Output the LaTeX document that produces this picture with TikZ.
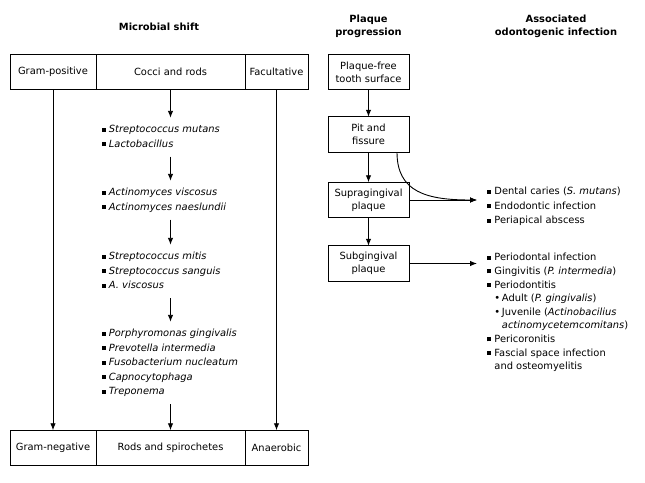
\documentclass[tikz,border=0pt]{standalone}
\usepackage{fontspec}
\setmainfont{DejaVu Sans}
\usetikzlibrary{arrows.meta,positioning}

\newcommand{\sqb}{\strut\makebox[7pt][l]{\rule[1.2pt]{4pt}{4pt}}}
\newcommand{\rdb}{\makebox[7.5pt][l]{\textbullet}}

\begin{document}
\begin{tikzpicture}[x=1pt,y=-1pt,line width=0.9pt,>={Latex[length=7pt,width=5.5pt]},
    font=\fontsize{9.9}{14.5}\selectfont,
    box/.style={draw,minimum height=35.5pt,inner sep=0pt,outer sep=0pt,align=center,
                font=\fontsize{9.9}{13}\selectfont},
    head/.style={align=center,font=\fontsize{9.9}{13}\selectfont\bfseries},
    list/.style={align=left,inner xsep=0pt,inner ysep=4.5pt,anchor=north west},
    rlist/.style={list,font=\fontsize{9.9}{13.6}\selectfont},
    node distance=27pt]
    \useasboundingbox (0,0) rectangle (645,482);

    % headings
    \node[head] (hshift)  at (159,27)    {Microbial shift};
    \node[head] (hplaque) at (368.5,26.5) {Plaque\\progression};
    \node[head] (hinfect) at (556,26.5)  {Associated\\odontogenic infection};

    % microbial shift
    \node[box,minimum width=86pt]                       (gpos)  at (53,72) {Gram-positive};
    \node[box,minimum width=149pt,right=0pt of gpos]    (cocci)            {Cocci and rods};
    \node[box,minimum width=63pt,right=0pt of cocci]    (facul)            {Facultative};
    \node[box,minimum width=86pt]                       (gneg)  at (53,448) {Gram-negative};
    \node[box,minimum width=149pt,right=0pt of gneg]    (rods)             {Rods and spirochetes};
    \node[box,minimum width=63pt,right=0pt of rods]     (anaer)            {Anaerobic};

    \node[list] (l1) at (101.5,117.8) {\sqb\textit{Streptococcus mutans}\\
                                       \sqb\textit{Lactobacillus}};
    \node[list] (l2) at (101.5,180.8) {\sqb\textit{Actinomyces viscosus}\\
                                       \sqb\textit{Actinomyces naeslundii}};
    \node[list] (l3) at (101.5,244.8) {\sqb\textit{Streptococcus mitis}\\
                                       \sqb\textit{Streptococcus sanguis}\\
                                       \sqb\textit{A. viscosus}};
    \node[list] (l4) at (101.5,321.8) {\sqb\textit{Porphyromonas gingivalis}\\
                                       \sqb\textit{Prevotella intermedia}\\
                                       \sqb\textit{Fusobacterium nucleatum}\\
                                       \sqb\textit{Capnocytophaga}\\
                                       \sqb\textit{Treponema}};

    \draw[->] (gpos) -- (gneg);
    \draw[->] (facul) -- (anaer);
    \draw[->] (cocci) -- (l1.north -| cocci);
    \draw[->] (l1.south -| cocci) -- (l2.north -| cocci);
    \draw[->] (l2.south -| cocci) -- (l3.north -| cocci);
    \draw[->] (l3.south -| cocci) -- (l4.north -| cocci);
    \draw[->] (l4.south -| cocci) -- (rods);

    % plaque progression
    \node[box,minimum width=81pt]                   (pfree) at (368.5,72) {Plaque-free\\tooth surface};
    \node[box,minimum width=81pt,below=27pt of pfree] (pit)   {Pit and\\fissure};
    \node[box,minimum width=81pt,below=30pt of pit]   (supra) {Supragingival\\plaque};
    \node[box,minimum width=81pt,below=28pt of supra] (subg)  {Subgingival\\plaque};

    \draw[->] (pfree) -- (pit);
    \draw[->] (pit) -- (supra);
    \draw[->] (supra) -- (subg);

    % odontogenic infection
    \coordinate[right=68pt of supra.east] (infa);
    \coordinate[right=68pt of subg.east]  (infb);
    \node[list] (la) at (487,179.8) {\sqb Dental caries (\textit{S. mutans})\\
                                     \sqb Endodontic infection\\
                                     \sqb Periapical abscess};
    \node[rlist] (lb) at (487,246.5) {\sqb Periodontal infection\\
                                      \sqb Gingivitis (\textit{P. intermedia})\\
                                      \sqb Periodontitis\\
                                      \strut\hspace{7pt}\rdb Adult (\textit{P. gingivalis})\\
                                      \strut\hspace{7pt}\rdb Juvenile (\textit{Actinobacilius}\\
                                      \strut\hspace{14.5pt}\textit{actinomycetemcomitans})\\
                                      \sqb Pericoronitis\\
                                      \sqb Fascial space infection\\
                                      \strut\hspace{7pt}and osteomyelitis};

    \draw[->] (supra) -- (infa);
    \draw[->] ([xshift=-12pt]pit.south east) .. controls ([xshift=-12pt,yshift=-40pt]pit.south east)
              and ([xshift=-50pt]infa) .. (infa);
    \draw[->] (subg) -- (infb);
\end{tikzpicture}
\end{document}
